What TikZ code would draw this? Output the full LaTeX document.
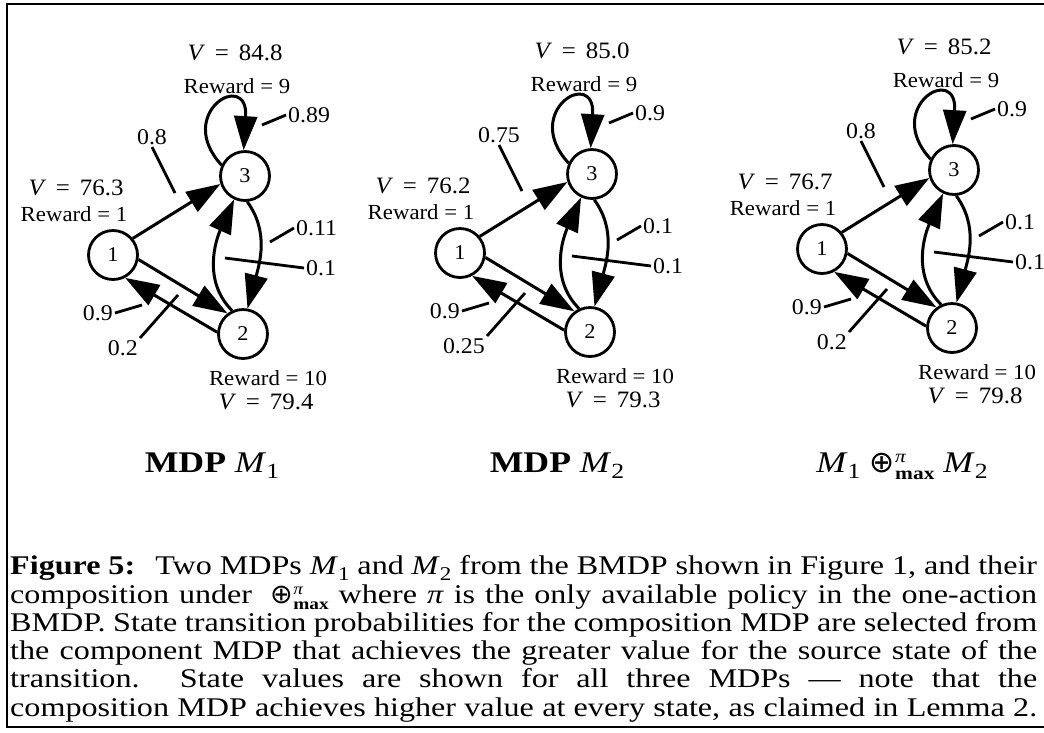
\documentclass[tikz,border=0pt]{standalone}
\usepackage{fontspec}
\usepackage{graphicx}
\setmainfont{Liberation Serif}
\newfontfamily\capfont{Liberation Serif}[FakeStretch=1.19,Ligatures=TeX]
\newfontfamily\labfont{Liberation Serif}[FakeStretch=1.06,Ligatures=TeX]
\newfontfamily\symfont{DejaVu Sans}
\usetikzlibrary{arrows.meta}
\newcommand\sub[1]{\raisebox{-.5ex}{\scalebox{.72}{#1}}}
\newcommand\opmax{{\symfont ⊕}\kern.02em\rlap{\raisebox{.7ex}{\scalebox{.6}{\textit{π}}}}\raisebox{-.55ex}{\scalebox{.6}{\bfseries max}}}
\newcommand\Vis{\textit{V}\hspace{.42em}=\hspace{.42em}}
\newcommand\mdpgraph[7]{%
  \node[state] (#1n1) at (113,255) {1};
  \node[state] (#1n3) at (245,176) {3};
  \node[state] (#1n2) at (243,334) {2};
  \draw[edge] (#1n1.40) -- (#1n3.198);
  \draw[edge] (#1n1.-10) -- (#1n2.127);
  \draw[edge] (#1n2.176) -- (#1n1.-62);
  \draw[edge] (#1n2.115) .. controls +(-30,-30) and +(-18,40) .. (#1n3.245);
  \draw[edge] (#1n3.-85) .. controls +(22,30) and +(12,-45) .. (#1n2.80);
  \draw[edge] (#1n3.155) .. controls +(-48,-52) and +(5,-82) .. (#1n3.93);
  \node[lab,anchor=south] (#1l13) at (152,147) {#2};
  \coordinate (#1q13) at (175,193);
  \draw[leader] (#1l13.south) -- (#1q13);
  \node[lab,anchor=west] (#1l33) at (286,115) {#3};
  \coordinate (#1q33) at (262,125);
  \draw[leader] (#1l33.west) -- (#1q33);
  \node[lab,anchor=west] (#1l32) at (294,228) {#4};
  \coordinate (#1q32) at (270,242);
  \draw[leader] (#1l32.west) -- (#1q32);
  \node[lab,anchor=west] (#1l23) at (304,268) {#5};
  \coordinate (#1q23) at (225,258);
  \draw[leader] (#1l23.west) -- (#1q23);
  \node[lab,anchor=east] (#1l21) at (115,313) {#6};
  \coordinate (#1q21) at (142,305);
  \draw[leader] (#1l21.east) -- (#1q21);
  \node[lab,anchor=north east] (#1l12) at (140,338) {#7};
  \coordinate (#1q12) at (178,295);
  \draw[leader] (#1l12.north east) -- (#1q12);
}
\newcommand\mdpvals[4]{%
  \node[val] (#1v3) at (235,53) {\Vis#4};
  \node[rew] (#1r3) at (237,86) {Reward = 9};
  \node[val] (#1v1) at (76,188) {\Vis#2};
  \node[rew] (#1r1) at (74,214) {Reward = 1};
  \node[rew] (#1r2) at (268,378) {Reward = 10};
  \node[val] (#1v2) at (266,402) {\Vis#3};
}
\begin{document}
\begin{tikzpicture}[x=1pt,y=-1pt,
  state/.style={circle,draw,line width=2.8pt,minimum size=49pt,inner sep=0pt,font=\labfont\fontsize{21}{21}\selectfont},
  edge/.style={line width=3pt,-{Triangle[length=34pt,width=23pt]}},
  leader/.style={line width=2.8pt},
  lab/.style={font=\labfont\fontsize{22.5}{22}\selectfont,inner sep=2pt},
  val/.style={font=\labfont\fontsize{23.5}{23}\selectfont,inner sep=0pt},
  rew/.style={font=\labfont\fontsize{21.5}{21}\selectfont,inner sep=0pt},
  ttl/.style={font=\capfont\fontsize{30}{30}\selectfont,inner sep=0pt},
  captxt/.style={font=\capfont\fontsize{27}{28}\selectfont,inner sep=0pt,anchor=base west},
]
\useasboundingbox (0,0) rectangle (1044,732);
\draw[line width=2.5pt] (1060,4) -- (7,4) -- (7,727) -- (1060,727);

\begin{scope}
  \mdpgraph{a}{0.8}{0.89}{0.11}{0.1}{0.9}{0.2}
  \mdpvals{a}{76.3}{79.4}{84.8}
\end{scope}
\begin{scope}[shift={(347,-2)}]
  \mdpgraph{b}{0.75}{0.9}{0.1}{0.1}{0.9}{0.25}
  \mdpvals{b}{76.2}{79.3}{85.0}
\end{scope}
\begin{scope}[shift={(709,-6)}]
  \mdpgraph{c}{0.8}{0.9}{0.1}{0.1}{0.9}{0.2}
  \mdpvals{c}{76.7}{79.8}{85.2}
\end{scope}

\node[ttl,anchor=base] (t1) at (212,472) {\textbf{MDP} \textit{M}\sub{1}};
\node[ttl,anchor=base] (t2) at (557,472) {\textbf{MDP} \textit{M}\sub{2}};
\node[ttl,anchor=base] (t3) at (902,472) {\textit{M}\sub{1} \opmax\ \textit{M}\sub{2}};

\node[captxt] (cap1) at (10,574) {\makebox[1027pt][s]{\textbf{Figure 5:}\hspace{.35em} Two MDPs \textit{M}\sub{1} and \textit{M}\sub{2} from the BMDP shown in Figure 1, and their}};
\node[captxt] (cap2) at (10,603) {\makebox[1027pt][s]{composition under \hspace{.3em}\opmax\ where \textit{π} is the only available policy in the one-action}};
\node[captxt] (cap3) at (10,631) {\makebox[1027pt][s]{BMDP. State transition probabilities for the composition MDP are selected from}};
\node[captxt] (cap4) at (10,659) {\makebox[1027pt][s]{the component MDP that achieves the greater value for the source state of the}};
\node[captxt] (cap5) at (10,687) {\makebox[1027pt][s]{transition. State values are shown for all three MDPs — note that the}};
\node[captxt] (cap6) at (10,716) {\makebox[1027pt][s]{composition MDP achieves higher value at every state, as claimed in Lemma 2.}};
\end{tikzpicture}
\end{document}
